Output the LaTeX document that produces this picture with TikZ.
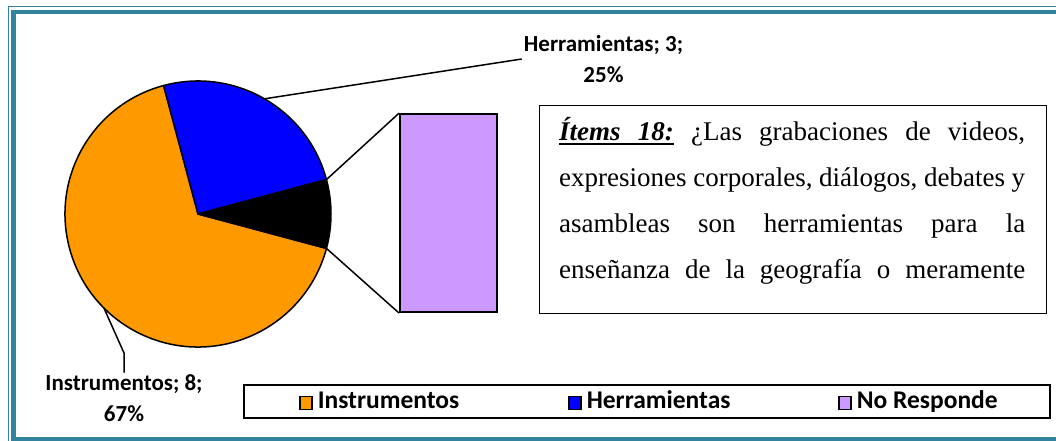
\documentclass[tikz,border=0pt]{standalone}
\usepackage{fontspec}
\setmainfont{Liberation Serif}
\newfontfamily\calibri{Carlito}
\usetikzlibrary{positioning}

\definecolor{pieorange}{HTML}{FF9900}
\definecolor{pieblue}{HTML}{0000FF}
\definecolor{pielilac}{HTML}{CC99FF}
\definecolor{frameteal}{HTML}{31849B}

\newcommand{\thickul}[1]{\setbox0\hbox{#1}\rlap{\rule[-5pt]{\wd0}{2pt}}\box0\relax}
\newcommand{\ulspace}{\leaders\hrule height -3pt depth 5pt\hskip\fontdimen2\font plus\fontdimen3\font minus\fontdimen4\font\relax}

\begin{document}
\begin{tikzpicture}[
x=1pt,
y=1pt,
slice/.style={
  draw=black,
  line width=1.5pt,
  line join=round
  },
leader/.style={
  draw=black,
  line width=1.5pt
  },
datalabel/.style={
  font=\calibri\bfseries\fontsize{23}{30.5}\selectfont,
  align=center,
  inner sep=2pt
  },
swatch/.style={
  draw=black,
  line width=1.2pt,
  minimum width=12pt,
  minimum height=13.5pt,
  inner sep=0pt
  },
legtext/.style={
  font=\calibri\bfseries\fontsize{25.5}{28}\selectfont,
  inner sep=0pt,
  text height=15pt,
  text depth=4pt
  },
frameline/.style={
  draw=frameteal
  }
]
\useasboundingbox (0,0) rectangle (1056,440);
\clip (0,0) rectangle (1056,440);

% page frame
\draw[frameline, line width=1.2pt] (8.5,-6) rectangle (1080,433.5);
\draw[frameline, line width=4.5pt] (13.25,0.5) rectangle (1075,428);

% pie
\coordinate (pc) at (198,226);
\foreach \from/\to/\col in {105/345/pieorange, 15/105/pieblue, -15/15/black}
  \filldraw[slice, fill=\col] (pc) -- ++(\from:133)
    arc[start angle=\from, end angle=\to, radius=133] -- cycle;
\coordinate (blkTop) at ([shift={(15:133)}]pc);
\coordinate (blkBot) at ([shift={(-15:133)}]pc);
\coordinate (herrEdge) at ([shift={(60:133)}]pc);
\coordinate (instrEdge) at ([shift={(225:133)}]pc);

% bar for the small slice
\node[draw, line width=1.8pt, fill=pielilac, minimum width=97pt,
  minimum height=198pt, inner sep=0pt, anchor=south west] (nobar) at (399,127) {};
\draw[leader] (blkTop) -- (nobar.north west);
\draw[leader] (blkBot) -- (nobar.south west);

% data labels
\node[datalabel] (herrlabel) at (603.5,381) {Herramientas; 3;\\25\%};
\node[datalabel] (instrlabel) at (124,42) {Instrumentos; 8;\\67\%};
\coordinate (instrBend) at (124,87);
\draw[leader] (herrEdge) -- (herrlabel.west);
\draw[leader] (instrEdge) -- (instrBend) -- (instrlabel.north);

% question box
\node[draw, line width=1.4pt, minimum width=507pt, minimum height=208pt,
  inner sep=0pt, anchor=south west] (itembox) at (539,126) {};
\node[font=\fontsize{27}{46}\selectfont, text width=466pt, align=justify,
  inner sep=0pt, anchor=base west] (itemtext) at (559,300)
  {\thickul{\textbf{\textit{Ítems}}}\ulspace\thickul{\textbf{\textit{18:}}} ¿Las grabaciones de videos,\linebreak
   expresiones corporales, diálogos, debates y\linebreak
   asambleas son herramientas para la\linebreak
   enseñanza de la geografía o meramente\parfillskip=0pt\par};

% legend
\node[draw, line width=2.2pt, minimum width=806pt, minimum height=33pt,
  inner sep=0pt] (legbox) at (647,38.5) {};
\foreach \col/\lab/\xx [count=\k] in {pieorange/Instrumentos/306, pieblue/Herramientas/575, pielilac/No Responde/845}
{
  \node[swatch, fill=\col] (sw\k) at (\xx,37) {};
  \node[legtext, right=5pt of sw\k] (lt\k) {\lab};
}
\end{tikzpicture}
\end{document}
